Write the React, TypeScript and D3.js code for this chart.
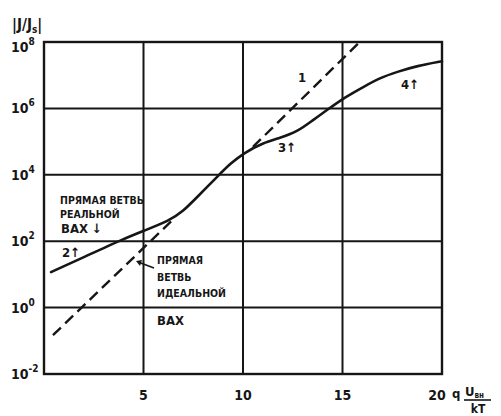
import React from "react";
import * as d3 from "d3";

// x tick labels and grid positions
const xTicks = [5, 10, 15, 20];
const yTickExps = [-2, 0, 2, 4, 6, 8];

// curve 2-3-4 : real forward branch (x = qU/kT, value = log10 |J/Js|)
const realX = [0.35, 2, 4, 5, 6.3, 6.95, 7.65, 8.8, 9.35, 10.05, 11, 11.86, 12.71, 13.52, 14.22, 15.13, 16.03, 16.88, 17.74, 18.74, 20];
const realLog = [1.07, 1.52, 2.07, 2.31, 2.62, 2.88, 3.3, 4.0, 4.33, 4.66, 4.96, 5.11, 5.29, 5.65, 5.95, 6.34, 6.64, 6.92, 7.1, 7.28, 7.42];

// curve 1 : ideal forward branch (dashed), two visible pieces
const idealX1 = [0.45, 6.6];
const idealLog1 = [-0.83, 2.72];
const idealX2 = [10.5, 15.78];
const idealLog2 = [4.84, 7.95];

const INK = "#161616";
const FONT = "'DejaVu Sans Condensed', 'Liberation Sans Narrow', sans-serif";

export default function App() {
  const x = d3.scaleLinear().domain([0, 20]).range([44, 442]);
  const y = d3.scaleLog().domain([1e-2, 1e8]).range([374, 42]);

  const real = d3
    .line<[number, number]>()
    .x((d) => x(d[0]))
    .y((d) => y(Math.pow(10, d[1])))
    .curve(d3.curveBasis)(realX.map((v, i) => [v, realLog[i]]));

  const straight = d3
    .line<[number, number]>()
    .x((d) => x(d[0]))
    .y((d) => y(Math.pow(10, d[1])));
  const ideal1 = straight(idealX1.map((v, i) => [v, idealLog1[i]]));
  const ideal2 = straight(idealX2.map((v, i) => [v, idealLog2[i]]));

  const [x0, x1] = x.range();
  const [yb, yt] = y.range();

  return (
    <svg
      width={501}
      height={416}
      style={{ position: "absolute", left: 0, top: 0, background: "#fff" }}
      fontFamily={FONT}
      fontWeight="bold"
      fill={INK}
    >
      <rect x={0} y={0} width={501} height={416} fill="#fff" />

      {/* GRID */}
      {xTicks.slice(0, 3).map((t) => (
        <line key={"gx" + t} x1={x(t)} x2={x(t)} y1={yt} y2={yb} stroke={INK} strokeWidth={2} />
      ))}
      {yTickExps.slice(1, 5).map((e) => (
        <line key={"gy" + e} x1={x0} x2={x1} y1={y(Math.pow(10, e))} y2={y(Math.pow(10, e))} stroke={INK} strokeWidth={2} />
      ))}
      <rect x={x0} y={yt} width={x1 - x0} height={yb - yt} fill="none" stroke={INK} strokeWidth={2.4} />

      {/* CURVES */}
      <path d={real ?? ""} fill="none" stroke={INK} strokeWidth={2.6} strokeLinecap="round" />
      <path d={ideal1 ?? ""} fill="none" stroke={INK} strokeWidth={2.4} strokeDasharray="11 6" />
      <path d={ideal2 ?? ""} fill="none" stroke={INK} strokeWidth={2.4} strokeDasharray="11 6" />

      {/* Y TICK LABELS */}
      {yTickExps.map((e) => (
        <text key={"ty" + e} x={11} y={y(Math.pow(10, e)) + (e === 8 ? 10 : 5)} fontSize={14}>
          10
          <tspan dy={-7} fontSize={10}>
            {e}
          </tspan>
        </text>
      ))}
      <text x={12} y={30} fontSize={15}>
        |J/J
        <tspan dy={3} fontSize={10}>s</tspan>
        <tspan dy={-3}>|</tspan>
      </text>

      {/* X TICK LABELS */}
      {xTicks.map((t) => (
        <text key={"tx" + t} x={t === 20 ? x(t) - 5 : x(t)} y={400} fontSize={14} textAnchor="middle">
          {t}
        </text>
      ))}
      <text x={452} y={398} fontSize={13}>q</text>
      <text x={465} y={396} fontSize={13}>
        U<tspan dy={2} fontSize={8}>вн</tspan>
      </text>
      <line x1={464} x2={491} y1={400} y2={400} stroke={INK} strokeWidth={1.6} />
      <text x={478} y={413} fontSize={12} textAnchor="middle">kT</text>

      {/* ANNOTATIONS */}
      <text x={298} y={82} fontSize={13}>1</text>
      <text x={401} y={89} fontSize={13}>4↑</text>
      <text x={278} y={152} fontSize={13}>3↑</text>
      <text x={62} y={257} fontSize={13}>2↑</text>

      <text x={60} y={204} fontSize={10.5}>ПРЯМАЯ ВЕТВЬ</text>
      <text x={60} y={218} fontSize={10.5}>РЕАЛЬНОЙ</text>
      <text x={61} y={233} fontSize={13}>ВАХ ↓</text>

      <text x={157} y={264} fontSize={10.5}>ПРЯМАЯ</text>
      <text x={157} y={281} fontSize={10.5}>ВЕТВЬ</text>
      <text x={157} y={297} fontSize={10.5}>ИДЕАЛЬНОЙ</text>
      <text x={157} y={325} fontSize={13}>ВАХ</text>
      <line x1={154} y1={268} x2={138} y2={262} stroke={INK} strokeWidth={1.6} />
      <path d="M136,261 L142,260 L140,266 Z" fill={INK} />
    </svg>
  );
}
